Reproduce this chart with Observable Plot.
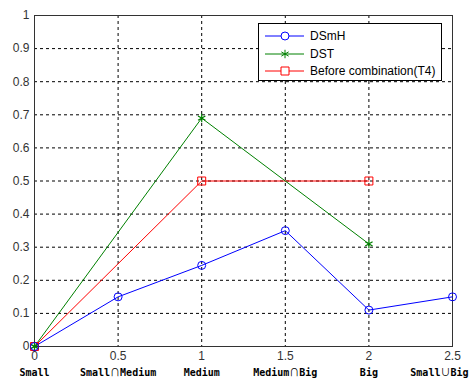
<!DOCTYPE html>
<html><head><meta charset="utf-8">
<script src="https://cdn.jsdelivr.net/npm/d3@7"></script>
<script src="https://cdn.jsdelivr.net/npm/@observablehq/plot@0.6"></script>
<style>
body{margin:0;background:#fff;}
#wrap{position:relative;width:470px;height:380px;}
#legend{position:absolute;left:258px;top:23px;width:184px;height:58px;border:1px solid #000;background:#fff;box-sizing:border-box;font:12px "Liberation Sans",Arial,sans-serif;color:#000;}
#legend .row{position:absolute;left:5px;height:16px;display:flex;align-items:center;}
#legend svg{display:block}
</style></head><body>
<div id="wrap"><div id="legend"></div></div>
<script>
const xTicks = [0, 0.5, 1, 1.5, 2, 2.5];
const xCategories = ["Small", "Small\u2229Medium", "Medium", "Medium\u2229Big", "Big", "Small\u222aBig"];
const yTicks = [0, 0.1, 0.2, 0.3, 0.4, 0.5, 0.6, 0.7, 0.8, 0.9, 1];

const dsmhX = [0, 0.5, 1, 1.5, 2, 2.5];
const dsmhY = [0, 0.15, 0.245, 0.35, 0.11, 0.15];
const dstX = [0, 1, 2];
const dstY = [0, 0.69, 0.31];
const beforeX = [0, 1, 2];
const beforeY = [0, 0.5, 0.5];

const seriesNames = ["DSmH", "DST", "Before combination(T4)"];
const seriesColors = ["#0000ff", "#008000", "#ff0000"];
const seriesSymbols = ["circle", "asterisk", "square"];

const toRows = (xs, ys) => xs.map((x, i) => ({x, y: ys[i]}));
const dsmh = toRows(dsmhX, dsmhY);
const dst = toRows(dstX, dstY);
const before = toRows(beforeX, beforeY);
const cats = xCategories.map((label, i) => ({x: xTicks[i], label}));
const lastIdx = cats.length - 1;

const fmt = d => String(+d.toFixed(1));
const catFont = {fontSize: 10, fontWeight: "bold", fontFamily: '"DejaVu Sans Mono", monospace', fill: "#000", className: "cat"};

const chart = Plot.plot({
  width: 470, height: 380,
  marginLeft: 34, marginRight: 18, marginTop: 15, marginBottom: 34,
  style: {fontFamily: '"Liberation Sans", Arial, sans-serif', fontSize: "12px", background: "#fff", overflow: "visible"},
  x: {domain: [0, 2.5], label: null},
  y: {domain: [0, 1], label: null},
  marks: [
    Plot.gridX(xTicks, {stroke: "#000", strokeOpacity: 1, strokeDasharray: "3,3"}),
    Plot.gridY(yTicks, {stroke: "#000", strokeOpacity: 1, strokeDasharray: "3,3"}),
    Plot.frame({stroke: "#333"}),
    Plot.axisY({ticks: yTicks, tickSize: 0, tickPadding: 5, tickFormat: fmt, fill: "#333", fontSize: 12, label: null}),
    Plot.axisX({ticks: xTicks, tickSize: 0, tickPadding: 5, tickFormat: fmt, fill: "#333", fontSize: 12, label: null}),
    Plot.text(cats.slice(0, lastIdx), {x: "x", text: "label", frameAnchor: "bottom", dy: 29, ...catFont}),
    Plot.text(cats.slice(lastIdx), {x: "x", text: "label", frameAnchor: "bottom", dy: 29, dx: 16, textAnchor: "end", ...catFont}),
    Plot.line(before, {x: "x", y: "y", stroke: seriesColors[2], strokeWidth: 1}),
    Plot.line(dst, {x: "x", y: "y", stroke: seriesColors[1], strokeWidth: 1}),
    Plot.line(dsmh, {x: "x", y: "y", stroke: seriesColors[0], strokeWidth: 1}),
    Plot.dot(before, {x: "x", y: "y", symbol: "square", stroke: seriesColors[2], r: 4.5, strokeWidth: 1}),
    Plot.dot(dst, {x: "x", y: "y", symbol: "asterisk", stroke: seriesColors[1], r: 4, strokeWidth: 1.2}),
    Plot.dot(dsmh, {x: "x", y: "y", symbol: "circle", stroke: seriesColors[0], r: 4, strokeWidth: 1})
  ]
});
document.getElementById("wrap").prepend(chart);

// render set symbols (∩, ∪) with a CJK font so they look tall like the original
d3.select(chart).selectAll("g.cat text").each(function() {
  const t = this.textContent;
  if (!/[\u2229\u222a]/.test(t)) return;
  const sel = d3.select(this);
  sel.text(null);
  t.split(/([\u2229\u222a])/).forEach(part => {
    if (!part) return;
    const ts = sel.append("tspan").text(part);
    if (/[\u2229\u222a]/.test(part)) ts.attr("font-family", '"Noto Sans CJK SC"').attr("font-weight", "normal");
  });
});

const legend = document.getElementById("legend");
const symPath = {circle: d3.symbol(d3.symbolCircle, 50)(), asterisk: d3.symbol(d3.symbolAsterisk, 50)(), square: d3.symbol(d3.symbolSquare, 64)()};
seriesNames.forEach((name, i) => {
  const row = document.createElement("div");
  row.className = "row";
  row.style.top = (4 + i * 17.5) + "px";
  row.innerHTML = `<svg width="45" height="16"><line x1="1" x2="40" y1="8" y2="8" stroke="${seriesColors[i]}"/>` +
    `<path transform="translate(21,8)" d="${symPath[seriesSymbols[i]]}" fill="${seriesSymbols[i]==='asterisk'?'none':'#fff'}" stroke="${seriesColors[i]}"/></svg>` +
    `<span style="margin-left:1px">${name}</span>`;
  legend.appendChild(row);
});
</script>
</body></html>
